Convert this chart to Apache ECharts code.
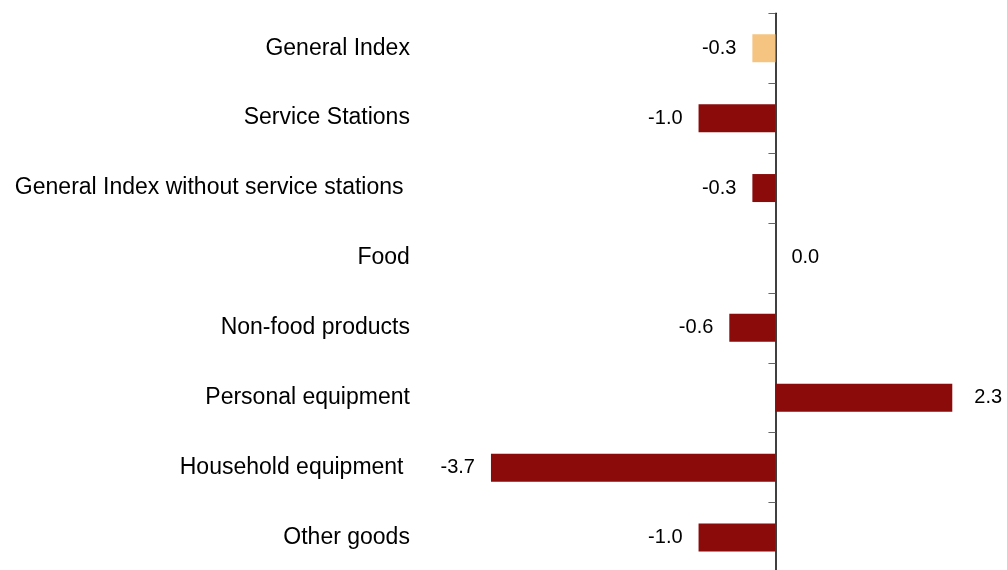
<!DOCTYPE html>
<html>
<head>
<meta charset="utf-8">
<script src="https://cdn.jsdelivr.net/npm/echarts@6/dist/echarts.min.js"></script>
<style>html,body{margin:0;padding:0;background:#fff;}#c{width:1007px;height:570px;}</style>
</head>
<body>
<div id="c"></div>
<script>
const categories = ["General Index", "Service Stations", "General Index without service stations ", "Food", "Non-food products", "Personal equipment", "Household equipment ", "Other goods"];
const values = [-0.3, -1.0, -0.3, 0.0, -0.6, 2.3, -3.7, -1.0];
const highlightCategory = "General Index";

const chart = echarts.init(document.getElementById('c'));
const data = values.map((v, i) => ({
  value: v,
  itemStyle: { color: categories[i] === highlightCategory ? '#F5C480' : '#8B0A0A' },
  label: {
    position: v < 0 ? 'left' : 'right',
    distance: v > 0 ? 22 : 16
  }
}));
chart.setOption({
  animation: false,
  grid: { left: 467.9, top: 13.3, width: 538.2, height: 559.2, containLabel: false, outerBoundsMode: 'none' },
  xAxis: {
    type: 'value', min: -4, max: 3, show: false,
    splitLine: { show: false }
  },
  yAxis: {
    type: 'category', data: categories, inverse: true,
    axisLine: { show: true, onZero: true, lineStyle: { color: '#000', width: 1.5 } },
    axisTick: { show: true, length: 7, lineStyle: { color: '#666' } },
    axisLabel: { margin: 58, color: '#000', fontFamily: 'Liberation Sans', fontSize: 23, align: 'right' }
  },
  series: [{
    type: 'bar', data: data, barWidth: 28,
    label: {
      show: true, color: '#000', fontFamily: 'Liberation Sans', fontSize: 20,
      formatter: p => p.value.toFixed(1)
    }
  }]
});
</script>
</body>
</html>
